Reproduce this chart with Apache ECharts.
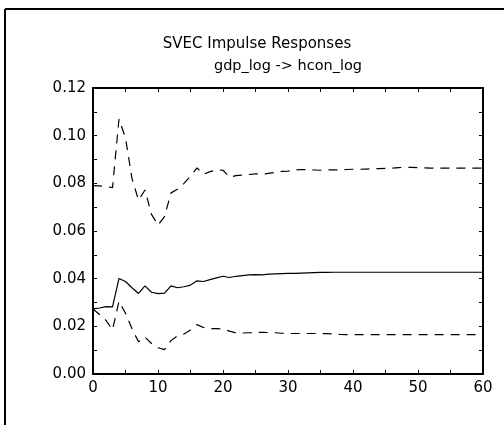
<!DOCTYPE html>
<html>
<head>
<meta charset="utf-8">
<script src="https://cdn.jsdelivr.net/npm/echarts@6/dist/echarts.min.js"></script>
<style>html,body{margin:0;padding:0;background:#fff;}#c{width:504px;height:425px;}</style>
</head>
<body>
<div id="c"></div>
<script>
var titleText = 'SVEC Impulse Responses';
var subtitleText = 'gdp_log -> hcon_log';
var horizons = [];
for (var i = 0; i <= 60; i++) horizons.push(i);
var xTicks = [0, 10, 20, 30, 40, 50, 60];
var yTicks = [0.00, 0.02, 0.04, 0.06, 0.08, 0.10, 0.12];

var estimate = [
  0.0273, 0.0277, 0.0283, 0.0282, 0.0401, 0.0388, 0.0362, 0.0338, 0.0370, 0.0343,
  0.0337, 0.0339, 0.0370, 0.0362, 0.0366, 0.0373, 0.0391, 0.0388, 0.0396, 0.0403,
  0.0410, 0.0405, 0.0410, 0.0413, 0.0416, 0.0417, 0.0416, 0.0419, 0.0420, 0.0421,
  0.0422, 0.0422, 0.0423, 0.0424, 0.0425, 0.0426, 0.0426, 0.0427, 0.0427, 0.0427,
  0.0427, 0.0427, 0.0427, 0.0427, 0.0427, 0.0427, 0.0427, 0.0427, 0.0427, 0.0427,
  0.0427, 0.0427, 0.0427, 0.0427, 0.0427, 0.0427, 0.0427, 0.0427, 0.0427, 0.0427,
  0.0427
];
var upper = [
  0.0790, 0.0789, 0.0787, 0.0782, 0.1070, 0.0990, 0.0820, 0.0730, 0.0772, 0.0670,
  0.0625, 0.0660, 0.0760, 0.0775, 0.0800, 0.0830, 0.0865, 0.0838, 0.0849, 0.0856,
  0.0855, 0.0826, 0.0832, 0.0835, 0.0837, 0.0840, 0.0838, 0.0842, 0.0846, 0.0850,
  0.0851, 0.0856, 0.0858, 0.0857, 0.0856, 0.0855, 0.0856, 0.0857, 0.0856, 0.0858,
  0.0859, 0.0859, 0.0860, 0.0861, 0.0862, 0.0863, 0.0864, 0.0866, 0.0867, 0.0867,
  0.0866, 0.0865, 0.0864, 0.0864, 0.0864, 0.0864, 0.0864, 0.0864, 0.0864, 0.0864,
  0.0864
];
var lower = [
  0.0273, 0.0250, 0.0225, 0.0185, 0.0305, 0.0255, 0.0190, 0.0135, 0.0155, 0.0128,
  0.0110, 0.0102, 0.0140, 0.0160, 0.0168, 0.0185, 0.0207, 0.0195, 0.0190, 0.0190,
  0.0189, 0.0180, 0.0172, 0.0172, 0.0173, 0.0174, 0.0175, 0.0174, 0.0173, 0.0171,
  0.0170, 0.0170, 0.0170, 0.0170, 0.0170, 0.0170, 0.0169, 0.0168, 0.0166, 0.0165,
  0.0165, 0.0165, 0.0165, 0.0165, 0.0165, 0.0165, 0.0165, 0.0165, 0.0165, 0.0165,
  0.0165, 0.0165, 0.0165, 0.0165, 0.0165, 0.0165, 0.0165, 0.0165, 0.0165, 0.0165,
  0.0165
];

function pairs(vals) { return horizons.map(function (h, i) { return [h, vals[i]]; }); }

var FONT = 'DejaVu Sans';
var chart = echarts.init(document.getElementById('c'), null, { renderer: 'canvas' });
var axisCommon = {
  axisLine: { show: true, onZero: false, lineStyle: { color: '#000', width: 2 } },
  axisTick: { show: true, inside: true, length: 4, lineStyle: { color: '#000', width: 1 } },
  minorTick: { show: true, splitNumber: 2, length: 4, lineStyle: { color: '#000', width: 1 } },
  splitLine: { show: false }
};
function ax(extra) { return Object.assign({}, JSON.parse(JSON.stringify(axisCommon)), extra); }

chart.setOption({
  animation: false,
  backgroundColor: '#fff',
  title: [
    { text: titleText, left: 257, top: 37, padding: 0, textAlign: 'center',
      textStyle: { fontFamily: FONT, fontSize: 15, fontWeight: 'normal', color: '#000' } },
    { text: subtitleText, left: 288, top: 59, padding: 0, textAlign: 'center',
      textStyle: { fontFamily: FONT, fontSize: 14.5, fontWeight: 'normal', color: '#000' } }
  ],
  grid: { left: 93, right: 21, top: 88, bottom: 51, containLabel: false },
  xAxis: [
    ax({ type: 'value', position: 'bottom', min: xTicks[0], max: xTicks[xTicks.length - 1], interval: 10,
      axisLabel: { show: true, margin: 7, fontFamily: FONT, fontSize: 15, color: '#000',
        customValues: xTicks } }),
    ax({ type: 'value', position: 'top', min: xTicks[0], max: xTicks[xTicks.length - 1], interval: 10,
      axisLabel: { show: false } })
  ],
  yAxis: [
    ax({ type: 'value', position: 'left', min: yTicks[0], max: yTicks[yTicks.length - 1], interval: 0.02,
      axisLabel: { show: true, margin: 7, fontFamily: FONT, fontSize: 15, color: '#000',
        formatter: function (v) { return v.toFixed(2); } } }),
    ax({ type: 'value', position: 'right', min: yTicks[0], max: yTicks[yTicks.length - 1], interval: 0.02,
      axisLabel: { show: false } })
  ],
  series: [
    { type: 'line', name: 'estimate', data: pairs(estimate), showSymbol: false, symbol: 'none',
      lineStyle: { color: '#000', width: 1.2, type: 'solid' }, z: 3 },
    { type: 'line', name: 'upper', data: pairs(upper), showSymbol: false, symbol: 'none',
      lineStyle: { color: '#000', width: 1.2, type: [9, 7] }, z: 2 },
    { type: 'line', name: 'lower', data: pairs(lower), showSymbol: false, symbol: 'none',
      lineStyle: { color: '#000', width: 1.2, type: [9, 7] }, z: 2 }
  ],
  graphic: [
    { type: 'line', shape: { x1: 5, y1: 9, x2: 504, y2: 9 }, style: { stroke: '#000', lineWidth: 2 } },
    { type: 'line', shape: { x1: 5, y1: 9, x2: 5, y2: 425 }, style: { stroke: '#000', lineWidth: 2 } }
  ]
});
</script>
</body>
</html>
